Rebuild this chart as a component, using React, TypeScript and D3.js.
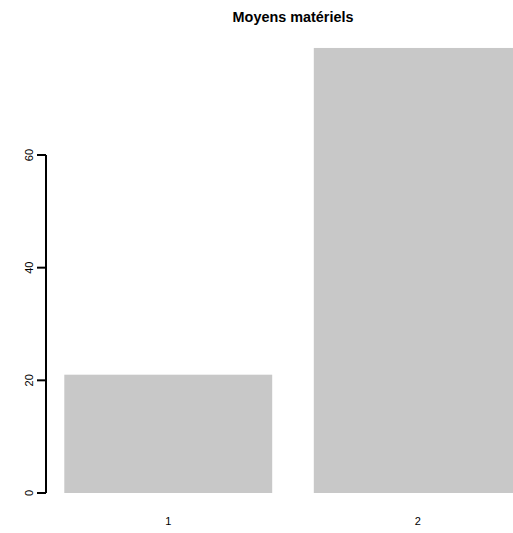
import React from "react";
import * as d3 from "d3";

const categories = ["1", "2"];
const values = [21, 79];
const yTicks = [0, 20, 40, 60];
const title = "Moyens matériels";

export default function App() {
  const W = 513, H = 533;
  // R barplot coordinate system: bars width 1, space 0.2
  const xLeft = categories.map((_, i) => 0.2 + i * 1.2);
  const xlim: [number, number] = [0.112, 2.488];
  const x = d3.scaleLinear().domain(xlim).range([46, 540]);
  const y = d3.scaleLinear().domain([0, 60]).range([493, 155]);
  const font = "'Liberation Sans', Arial, Helvetica, sans-serif";
  return (
    <svg width={W} height={H} style={{ position: "absolute", left: 0, top: 0, background: "#fff" }}>
      <rect width={W} height={H} fill="#fff" />
      <text x={(x(xlim[0]) + x(xlim[1])) / 2} y={22} textAnchor="middle" fontFamily={font} fontWeight="bold" fontSize={14.4}>
        {title}
      </text>
      {categories.map((c, i) => (
        <g key={c}>
          <rect
            x={x(xLeft[i])}
            y={y(values[i])}
            width={x(xLeft[i] + 1) - x(xLeft[i])}
            height={y(0) - y(values[i])}
            fill="#c8c8c8"
          />
          <text x={x(xLeft[i] + 0.5)} y={525} textAnchor="middle" fontFamily={font} fontSize={11}>
            {c}
          </text>
        </g>
      ))}
      <line x1={46} x2={46} y1={y(60)} y2={y(0)} stroke="#000" strokeWidth={2} />
      {yTicks.map((t) => (
        <g key={t}>
          <line x1={37} x2={46} y1={y(t)} y2={y(t)} stroke="#000" strokeWidth={2} />
          <text
            transform={`translate(${33},${y(t)}) rotate(-90)`}
            textAnchor="middle"
            fontFamily={font}
            fontSize={11}
          >
            {t}
          </text>
        </g>
      ))}
    </svg>
  );
}
